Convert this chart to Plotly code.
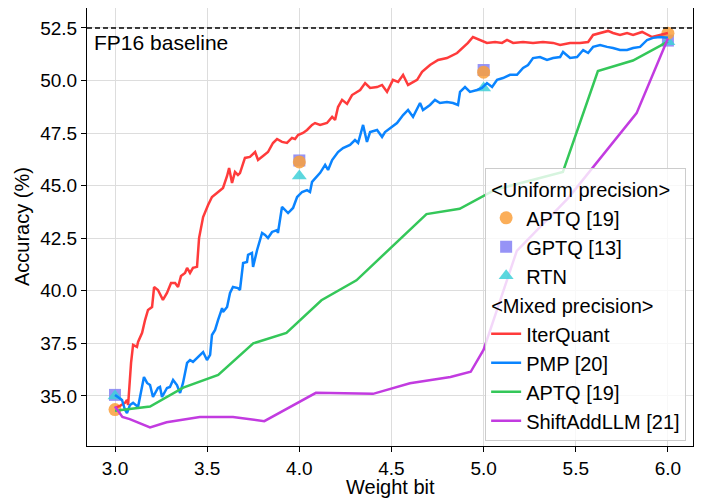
import plotly.graph_objects as go

# ---------------- data ----------------
iterquant_x = [3.000, 3.027, 3.054, 3.065, 3.071, 3.087, 3.098, 3.119, 3.125, 3.147, 3.163, 3.179, 3.201, 3.212,
               3.233, 3.260, 3.282, 3.304, 3.326, 3.342, 3.358, 3.380, 3.391, 3.407, 3.423, 3.445, 3.456, 3.478,
               3.505, 3.526, 3.553, 3.586, 3.608, 3.619, 3.635, 3.651, 3.667, 3.678, 3.705, 3.732, 3.760, 3.776,
               3.803, 3.830, 3.857, 3.879, 3.906, 3.933, 3.960, 3.977, 3.993, 4.020, 4.042, 4.069, 4.085, 4.113,
               4.150, 4.178, 4.194, 4.210, 4.232, 4.259, 4.286, 4.330, 4.357, 4.384, 4.422, 4.449, 4.476, 4.508,
               4.536, 4.563, 4.590, 4.639, 4.666, 4.709, 4.753, 4.801, 4.856, 4.888, 4.915, 4.942, 4.980, 5.018,
               5.062, 5.100, 5.127, 5.160, 5.214, 5.268, 5.322, 5.377, 5.415, 5.469, 5.523, 5.567, 5.594, 5.632,
               5.675, 5.702, 5.740, 5.778, 5.811, 5.860, 5.887, 5.914, 5.957, 6.000]
iterquant_y = [34.43, 34.53, 34.67, 34.81, 34.57, 36.57, 37.43, 37.33, 37.57, 38.00, 38.61, 39.09, 39.23, 40.18,
               40.04, 39.57, 39.90, 40.37, 40.37, 40.18, 40.71, 40.85, 41.09, 40.85, 41.09, 41.14, 42.51, 43.51,
               44.08, 44.46, 44.65, 44.89, 45.46, 45.84, 45.13, 45.65, 45.51, 45.60, 46.32, 46.37, 46.60, 46.22,
               46.41, 46.60, 47.03, 47.22, 47.08, 47.03, 47.27, 47.22, 47.41, 47.51, 47.65, 47.89, 47.98, 47.89,
               47.98, 48.27, 48.13, 48.74, 49.08, 48.89, 49.31, 49.55, 49.88, 49.65, 49.69, 49.79, 49.46, 50.03,
               49.93, 50.27, 49.79, 50.03, 50.41, 50.74, 50.98, 51.07, 51.31, 51.55, 51.79, 52.07, 51.93, 51.79,
               51.83, 51.79, 51.93, 51.79, 51.83, 51.79, 51.83, 51.79, 51.69, 51.79, 51.79, 51.83, 52.17, 52.26,
               52.36, 52.26, 52.17, 52.26, 52.17, 52.31, 52.17, 52.07, 52.17, 52.26]

pmp_x = [3.000, 3.038, 3.054, 3.065, 3.081, 3.098, 3.125, 3.147, 3.157, 3.174, 3.190, 3.206, 3.233, 3.244,
         3.255, 3.282, 3.298, 3.315, 3.336, 3.353, 3.369, 3.391, 3.407, 3.423, 3.450, 3.478, 3.499, 3.516,
         3.526, 3.543, 3.559, 3.581, 3.586, 3.608, 3.624, 3.640, 3.667, 3.678, 3.695, 3.716, 3.722, 3.743,
         3.749, 3.771, 3.798, 3.814, 3.830, 3.852, 3.879, 3.884, 3.906, 3.922, 3.939, 3.966, 3.988, 4.015,
         4.042, 4.058, 4.069, 4.113, 4.140, 4.156, 4.178, 4.210, 4.237, 4.275, 4.302, 4.319, 4.346, 4.367,
         4.384, 4.422, 4.449, 4.465, 4.492, 4.530, 4.563, 4.590, 4.617, 4.655, 4.671, 4.709, 4.736, 4.763,
         4.801, 4.834, 4.861, 4.872, 4.899, 4.926, 4.964, 4.991, 5.018, 5.046, 5.073, 5.105, 5.143, 5.181,
         5.214, 5.241, 5.268, 5.306, 5.344, 5.377, 5.415, 5.431, 5.469, 5.507, 5.540, 5.567, 5.594, 5.632,
         5.670, 5.702, 5.740, 5.778, 5.811, 5.849, 5.887, 5.919, 5.957, 6.000]
pmp_y = [35.05, 34.81, 34.34, 34.19, 34.57, 34.67, 34.48, 35.43, 35.90, 35.62, 35.52, 34.95, 35.38, 35.43,
         34.95, 35.38, 35.43, 35.76, 35.52, 35.14, 35.62, 36.57, 36.71, 36.62, 36.86, 37.09, 36.71, 36.95,
         37.90, 38.14, 38.61, 39.18, 38.99, 39.23, 39.90, 40.18, 40.13, 40.04, 41.32, 41.37, 41.71, 41.80,
         41.14, 41.94, 42.75, 42.66, 42.51, 42.80, 42.89, 42.75, 43.99, 43.85, 43.70, 43.94, 44.46, 44.70,
         44.79, 44.70, 45.18, 45.61, 45.99, 45.75, 46.22, 46.60, 46.79, 46.94, 47.17, 47.03, 47.89, 47.08,
         47.55, 47.65, 47.32, 47.55, 47.74, 47.98, 48.36, 48.60, 48.27, 48.93, 48.60, 48.84, 49.08, 48.93,
         48.98, 48.93, 48.84, 49.46, 49.69, 49.46, 49.55, 49.65, 49.88, 49.69, 50.03, 50.12, 50.27, 50.27,
         50.60, 50.74, 51.07, 51.12, 50.98, 51.07, 51.12, 51.36, 51.07, 51.12, 51.45, 51.31, 51.60, 51.69,
         51.60, 51.55, 51.45, 51.45, 51.55, 51.60, 51.93, 52.03, 52.07, 52.03]

aptq_mixed_x = [3.00, 3.19, 3.37, 3.56, 3.75, 3.93, 4.12, 4.31, 4.69, 4.87, 5.06, 5.43, 5.62, 5.81, 6.00]
aptq_mixed_y = [34.30, 34.50, 35.40, 36.00, 37.50, 38.00, 39.55, 40.50, 43.65, 43.90, 44.80, 45.65, 50.45, 50.95, 51.85]

shiftadd_x = [3.00, 3.04, 3.08, 3.19, 3.28, 3.46, 3.64, 3.81, 4.09, 4.40, 4.60, 4.82, 4.93, 5.00, 5.18, 5.46, 5.83, 6.00]
shiftadd_y = [34.50, 34.00, 33.90, 33.50, 33.75, 34.00, 34.00, 33.80, 35.15, 35.10, 35.60, 35.90, 36.15, 37.20,
              41.90, 44.42, 48.45, 52.00]

uniform_bits = [3.0, 4.0, 5.0, 6.0]
aptq_uniform = [34.35, 46.13, 50.40, 52.25]
gptq_uniform = [35.05, 46.20, 50.50, 51.90]
rtn_uniform = [35.00, 45.46, 49.65, 51.85]

fp16_baseline = 52.5

x_ticks = [3.0, 3.5, 4.0, 4.5, 5.0, 5.5, 6.0]
y_ticks = [35.0, 37.5, 40.0, 42.5, 45.0, 47.5, 50.0, 52.5]

# ---------------- figure ----------------
FONT = "Liberation Sans, Arial, Helvetica, sans-serif"
fig = go.Figure()

uni_title = "&lt;Uniform precision&gt;"
mix_title = "&lt;Mixed precision&gt;"

# uniform precision markers (drawn under lines)
fig.add_trace(go.Scatter(x=uniform_bits, y=gptq_uniform, mode="markers", name="GPTQ [13]",
                         marker=dict(symbol="square", size=12, color="rgba(132,128,245,0.85)", line=dict(width=0)),
                         legendgroup="uni", legendgrouptitle_text=uni_title, legendrank=2))
fig.add_trace(go.Scatter(x=uniform_bits, y=rtn_uniform, mode="markers", name="RTN",
                         marker=dict(symbol="triangle-up", size=13, color="rgba(64,208,216,0.85)", line=dict(width=0)),
                         legendgroup="uni", legendgrouptitle_text=uni_title, legendrank=3))
fig.add_trace(go.Scatter(x=uniform_bits, y=aptq_uniform, mode="markers", name="APTQ [19]",
                         marker=dict(symbol="circle", size=13, color="rgba(250,160,60,0.85)", line=dict(width=0)),
                         legendgroup="uni", legendgrouptitle_text=uni_title, legendrank=1))

# mixed precision lines
fig.add_trace(go.Scatter(x=iterquant_x, y=iterquant_y, mode="lines", name="IterQuant",
                         line=dict(color="#FF3B3B", width=2.5),
                         legendgroup="mix", legendgrouptitle_text=mix_title, legendrank=4))
fig.add_trace(go.Scatter(x=pmp_x, y=pmp_y, mode="lines", name="PMP [20]",
                         line=dict(color="#0A84FF", width=2.5),
                         legendgroup="mix", legendgrouptitle_text=mix_title, legendrank=5))
fig.add_trace(go.Scatter(x=aptq_mixed_x, y=aptq_mixed_y, mode="lines", name="APTQ [19]",
                         line=dict(color="#34C759", width=2.5),
                         legendgroup="mix", legendgrouptitle_text=mix_title, legendrank=6))
fig.add_trace(go.Scatter(x=shiftadd_x, y=shiftadd_y, mode="lines", name="ShiftAddLLM [21]",
                         line=dict(color="#C23BE0", width=2.5),
                         legendgroup="mix", legendgrouptitle_text=mix_title, legendrank=7))

fig.add_shape(type="line", xref="paper", yref="y", x0=0, x1=1, y0=fp16_baseline, y1=fp16_baseline,
              line=dict(color="black", width=1.5, dash="5px,3px"))
fig.add_annotation(text="FP16 baseline", xref="paper", yref="y", x=0, y=fp16_baseline,
                   xanchor="left", yanchor="top", xshift=5, yshift=-1, showarrow=False,
                   font=dict(family=FONT, size=21, color="black"))

# axis titles
fig.add_annotation(text="Weight bit", xref="paper", yref="paper", x=0.5, y=0,
                   xanchor="center", yanchor="middle", yshift=-41, showarrow=False,
                   font=dict(family=FONT, size=20, color="black"))
fig.add_annotation(text="Accuracy (%)", xref="paper", yref="paper", x=0, y=0.5, textangle=-90,
                   xanchor="center", yanchor="middle", xshift=-65, showarrow=False,
                   font=dict(family=FONT, size=20, color="black"))

axis_common = dict(showgrid=True, gridcolor="#DDDDDD", gridwidth=1, showline=True, linecolor="black",
                   linewidth=1, mirror=True, ticks="outside", ticklen=5, tickcolor="black",
                   zeroline=False, automargin=False, tickfont=dict(family=FONT, size=19, color="black"))

fig.update_xaxes(range=[2.848, 6.136], tickvals=x_ticks, ticktext=[f"{v:.1f}" for v in x_ticks],
                 ticklabelstandoff=0, **axis_common)
fig.update_yaxes(range=[32.62, 53.45], tickvals=y_ticks, ticktext=[f"{v:.1f}" for v in y_ticks],
                 **axis_common)

# The page body adds an 8px margin, so the figure is sized and offset to compensate.
fig.update_layout(
    width=697, height=491,
    margin=dict(l=79, r=12, t=0, b=53, autoexpand=False),
    plot_bgcolor="white", paper_bgcolor="white",
    font=dict(family=FONT, size=19, color="black"),
    showlegend=True,
    legend=dict(x=0.657, y=0.634, xanchor="left", yanchor="top",
                bgcolor="rgba(255,255,255,0.8)", bordercolor="#CCCCCC", borderwidth=1,
                font=dict(family=FONT, size=20, color="black"),
                grouptitlefont=dict(family=FONT, size=20, color="black"),
                traceorder="grouped", tracegroupgap=0, itemwidth=30),
)

fig.write_html("out.html")
